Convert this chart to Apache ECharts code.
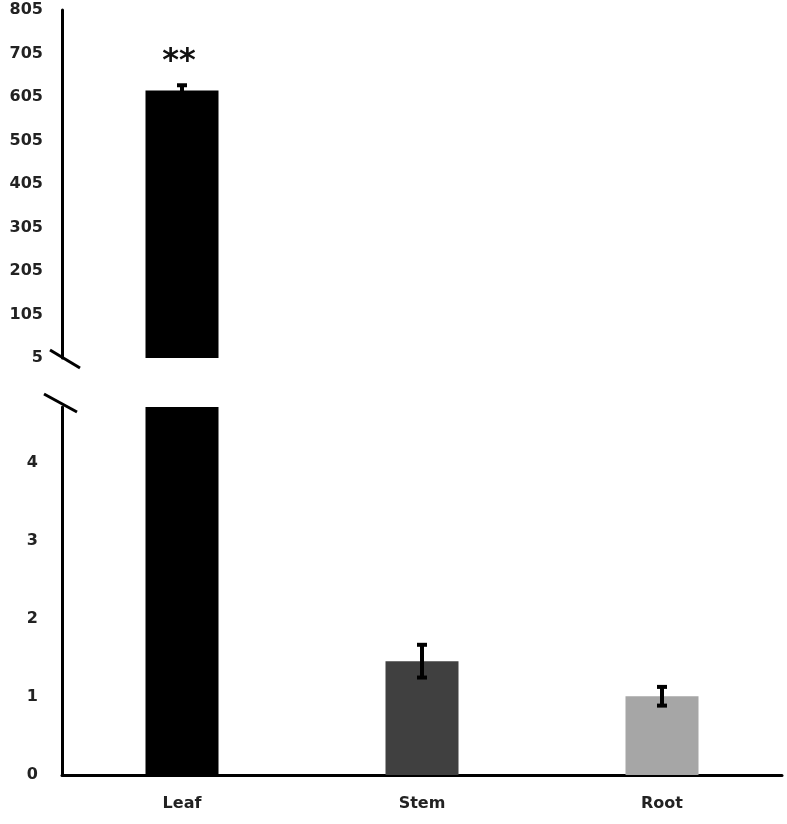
<!DOCTYPE html>
<html><head><meta charset="utf-8">
<script src="https://cdn.jsdelivr.net/npm/echarts@6/dist/echarts.min.js"></script>
<style>html,body{margin:0;padding:0;background:#fff}#c{width:787px;height:824px}</style>
</head><body><div id="c"></div>
<script>
const categories = ['Leaf', 'Stem', 'Root'];
const values = [620, 1.46, 1.01];
const errors = [12, 0.21, 0.12];
const colors = ['#000000', '#404040', '#a6a6a6'];
const significance = ['**', '', ''];
const topTicks = [5, 105, 205, 305, 405, 505, 605, 705, 805];
const bottomTicks = [0, 1, 2, 3, 4];

const chart = echarts.init(document.getElementById('c'));
const labelFont = { fontFamily: 'DejaVu Sans', fontWeight: 'bold', fontSize: 16, color: '#222' };

function errItem(gridIdx) {
  return function (params, api) {
    const i = api.value(0), v = api.value(1), e = api.value(2);
    const top = api.coord([i, v + e]);
    const bot = api.coord([i, v - e]);
    const x = top[0], hw = 5;
    const cs = params.coordSys;
    const children = [];
    const clip = (y) => Math.min(Math.max(y, cs.y), cs.y + cs.height);
    const yt = clip(top[1]), yb = clip(bot[1]);
    children.push({ type: 'line', shape: { x1: x, y1: yt, x2: x, y2: yb }, style: { stroke: '#000', lineWidth: 4 } });
    children.push({ type: 'line', shape: { x1: x - hw, y1: yt, x2: x + hw, y2: yt }, style: { stroke: '#000', lineWidth: 4 } });
    if (bot[1] <= cs.y + cs.height) children.push({ type: 'line', shape: { x1: x - hw, y1: yb, x2: x + hw, y2: yb }, style: { stroke: '#000', lineWidth: 4 } });
    const sig = significance[i];
    if (gridIdx === 0 && sig) {
      children.push({ type: 'text', x: x - 3, y: top[1] - 8, style: { text: sig, fontSize: 32, fontWeight: 'bold', fontFamily: 'DejaVu Sans', fill: '#111', align: 'center', verticalAlign: 'bottom' } });
    }
    return { type: 'group', children };
  };
}

const barData = values.map((v, i) => ({ value: v, itemStyle: { color: colors[i] } }));
const errData = values.map((v, i) => [i, v, errors[i]]);

chart.setOption({
  animation: false,
  grid: [
    { left: 62, right: 5, top: 10, height: 348 },
    { left: 62, right: 5, top: 407, bottom: 49 }
  ],
  xAxis: [
    { type: 'category', gridIndex: 0, data: categories, show: false },
    { type: 'category', gridIndex: 1, data: categories,
      axisLine: { lineStyle: { color: '#000', width: 3 } }, axisTick: { show: false },
      axisLabel: Object.assign({ margin: 21 }, labelFont) }
  ],
  yAxis: [
    { type: 'value', gridIndex: 0, min: 5, max: 805,
      axisLine: { show: true, lineStyle: { color: '#000', width: 3 } }, axisTick: { show: false },
      splitLine: { show: false },
      axisLabel: Object.assign({ margin: 19, customValues: topTicks }, labelFont) },
    { type: 'value', gridIndex: 1, min: 0, max: 4.72,
      axisLine: { show: true, lineStyle: { color: '#000', width: 3 } }, axisTick: { show: false },
      splitLine: { show: false },
      axisLabel: Object.assign({ margin: 24, customValues: bottomTicks }, labelFont) }
  ],
  series: [
    { type: 'bar', xAxisIndex: 0, yAxisIndex: 0, data: barData.map((d, i) => i === 0 ? d : { value: null }), barWidth: 73, clip: true },
    { type: 'bar', xAxisIndex: 1, yAxisIndex: 1, data: barData, barWidth: 73, clip: true },
    { type: 'custom', xAxisIndex: 0, yAxisIndex: 0, data: errData.filter(d => d[1] > 5), renderItem: errItem(0), clip: false, z: 5 },
    { type: 'custom', xAxisIndex: 1, yAxisIndex: 1, data: errData.filter(d => d[1] < 5), renderItem: errItem(1), z: 5 }
  ],
  graphic: [
    { type: 'line', shape: { x1: 50, y1: 350, x2: 80, y2: 368 }, style: { stroke: '#000', lineWidth: 3 } },
    { type: 'line', shape: { x1: 44, y1: 394, x2: 77, y2: 412 }, style: { stroke: '#000', lineWidth: 3 } }
  ]
});
</script></body></html>
